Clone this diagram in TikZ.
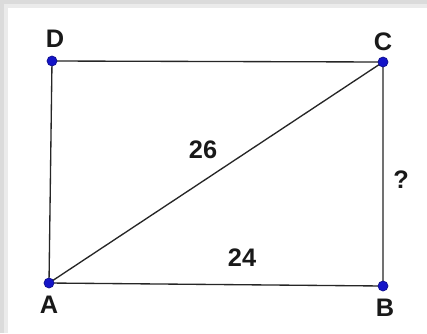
\documentclass[tikz,border=0pt]{standalone}
\usepackage{fontspec}
\setmainfont{Liberation Sans}
\begin{document}
\begin{tikzpicture}[x=0.75pt,y=-0.75pt,
  pt/.style={circle,fill=ptblue,draw=ptblue!70!black,line width=0.5pt,inner sep=0pt,minimum size=7.5pt},
  edge/.style={draw=black!85,line width=1pt},
  lbl/.style={font=\fontsize{19pt}{22pt}\selectfont\bfseries,text=black!90,inner sep=0pt}]
\definecolor{ptblue}{RGB}{20,20,200}
\useasboundingbox (0,0) rectangle (427,333);
% background shadow
\fill[black!14] (0,0) rectangle (427,333);
\fill[black!8] (4,4) rectangle (427,333);
\fill[white] (8,8) rectangle (427,333);
% points
\coordinate (A) at (49,283);
\coordinate (B) at (383,286);
\coordinate (C) at (383,62);
\coordinate (D) at (52,61);
\draw[edge] (A) -- (B) -- (C) -- (D) -- cycle;
\draw[edge] (A) -- (C);
\node[pt] (pA) at (A) {};
\node[pt] (pB) at (B) {};
\node[pt] (pC) at (C) {};
\node[pt] (pD) at (D) {};
\node[lbl] (lD) at (55,39) {D};
\node[lbl] (lC) at (383,42) {C};
\node[lbl] (lA) at (49,305) {A};
\node[lbl] (lB) at (385,308) {B};
\node[lbl] (l26) at (203,150) {26};
\node[lbl] (l24) at (242,258) {24};
\node[lbl] (lq) at (401,180) {?};
\end{tikzpicture}
\end{document}
